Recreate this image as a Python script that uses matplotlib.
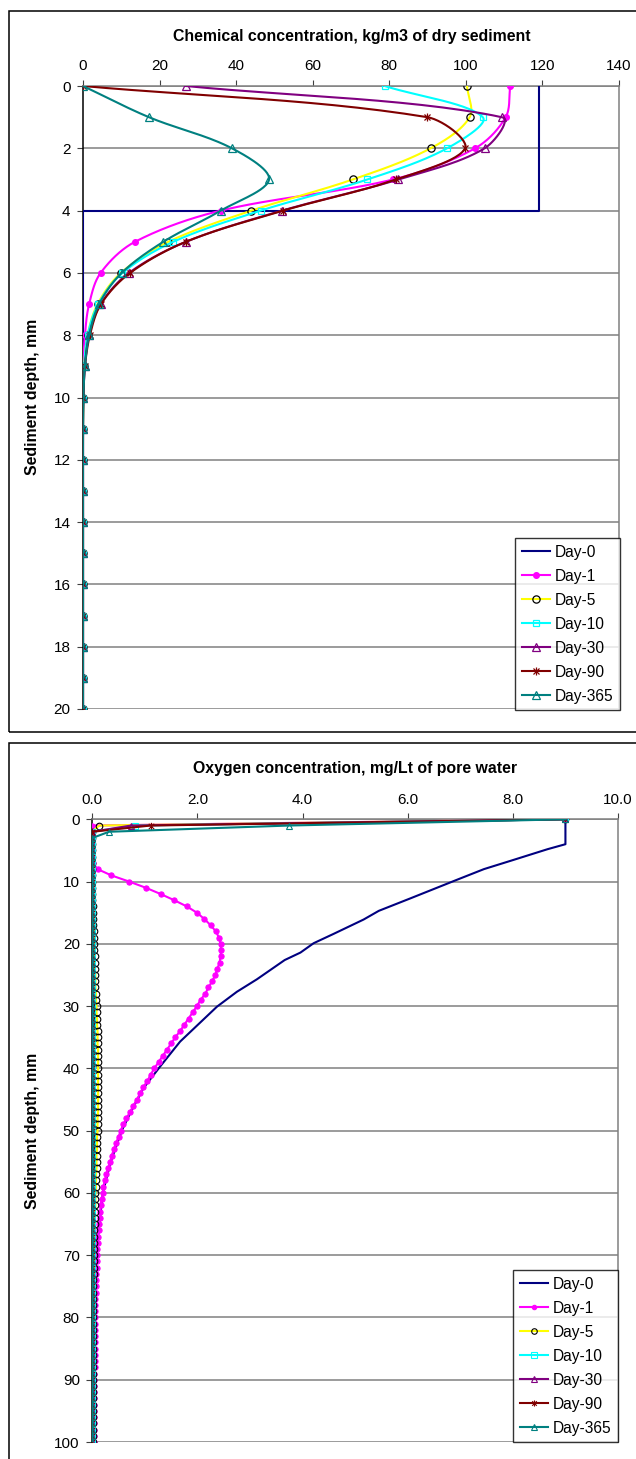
import numpy as np
import matplotlib
matplotlib.use("Agg")
import matplotlib.pyplot as plt
from matplotlib.patches import Rectangle
from matplotlib.path import Path

plt.rcParams['font.family'] = ['Liberation Sans', 'DejaVu Sans']

# ---------------- Chemical concentration, kg/m3 of dry sediment ----------------
chem_depth = [0, 1, 2, 3, 4, 5, 6, 7, 8, 9, 10, 11, 12, 13, 14, 15, 16, 17, 18, 19, 20]
chem_day0_depth = [0, 4, 4, 20]
chem_day0 = [119.0, 119.0, 0.0, 0.0]
chem_day1 = [111.6, 110.4, 102.4, 81.0, 36.0, 13.6, 4.6, 1.6, 0.5, 0.1, 0.0,
             0.0, 0.0, 0.0, 0.0, 0.0, 0.0, 0.0, 0.0, 0.0, 0.0]
chem_day5 = [100.3, 101.0, 90.8, 70.5, 44.0, 22.3, 9.9, 3.8, 1.2, 0.3, 0.1,
             0.0, 0.0, 0.0, 0.0, 0.0, 0.0, 0.0, 0.0, 0.0, 0.0]
chem_day10 = [78.8, 104.4, 95.1, 74.3, 46.4, 23.6, 10.3, 4.0, 1.2, 0.3, 0.1,
              0.0, 0.0, 0.0, 0.0, 0.0, 0.0, 0.0, 0.0, 0.0, 0.0]
chem_day30 = [26.9, 109.4, 104.9, 82.4, 52.0, 26.9, 12.0, 4.6, 1.6, 0.5, 0.1,
              0.0, 0.0, 0.0, 0.0, 0.0, 0.0, 0.0, 0.0, 0.0, 0.0]
chem_day90 = [0.0, 89.9, 99.8, 81.8, 52.3, 26.9, 12.3, 4.7, 1.8, 0.5, 0.1,
              0.0, 0.0, 0.0, 0.0, 0.0, 0.0, 0.0, 0.0, 0.0, 0.0]
chem_day365 = [0.0, 17.2, 38.9, 48.6, 36.0, 21.0, 10.1, 4.2, 1.6, 0.5, 0.1,
               0.0, 0.0, 0.0, 0.0, 0.0, 0.0, 0.0, 0.0, 0.0, 0.0]

# ---------------- Oxygen concentration, mg/Lt of pore water ----------------
oxy_depth = list(range(0, 101))
oxy_day0_depth = [0, 4, 4.8, 6.5, 8.0, 9.8, 12.7, 14.7, 16.1, 18.4, 19.9, 21.4, 22.6,
                  25.7, 27.7, 30.1, 35.7, 39.7, 43.2, 47.2, 50, 55, 60, 70, 80, 90, 100]
oxy_day0 = [9.0, 9.0, 8.66, 8.02, 7.45, 6.91, 6.05, 5.45, 5.16, 4.59, 4.21, 3.96, 3.66,
            3.13, 2.75, 2.37, 1.67, 1.29, 0.97, 0.72, 0.56, 0.35, 0.20, 0.07, 0.03, 0.01, 0.0]
oxy_day1 = [9.0, 0.0, 0.0, 0.0, 0.0, 0.0, 0.0, 0.01, 0.10, 0.36,
            0.70, 1.02, 1.30, 1.56, 1.80, 1.99, 2.13, 2.25, 2.35, 2.41,
            2.44, 2.45, 2.44, 2.42, 2.38, 2.34, 2.28, 2.21, 2.15, 2.06,
            1.99, 1.91, 1.83, 1.75, 1.67, 1.58, 1.50, 1.42, 1.34, 1.26,
            1.18, 1.11, 1.05, 0.97, 0.91, 0.85, 0.78, 0.72, 0.65, 0.59,
            0.54, 0.50, 0.45, 0.41, 0.37, 0.34, 0.30, 0.27, 0.24, 0.21,
            0.20, 0.18, 0.16, 0.15, 0.14, 0.13, 0.12, 0.11, 0.10, 0.09,
            0.08, 0.08, 0.08, 0.07, 0.07, 0.07, 0.07, 0.06, 0.06, 0.06,
            0.06, 0.06, 0.05, 0.05, 0.05, 0.05, 0.05, 0.05, 0.05, 0.04,
            0.04, 0.04, 0.04, 0.04, 0.04, 0.04, 0.04, 0.03, 0.03, 0.03,
            0.03]
oxy_day5 = [9.0, 0.13, 0.0, 0.0, 0.0, 0.0, 0.0, 0.0, 0.0, 0.0,
            0.0, 0.0, 0.0, 0.0, 0.01, 0.01, 0.02, 0.02, 0.03, 0.03,
            0.04, 0.04, 0.05, 0.05, 0.05, 0.06, 0.06, 0.06, 0.07, 0.07,
            0.08, 0.08, 0.09, 0.09, 0.10, 0.10, 0.10, 0.11, 0.11, 0.11,
            0.11, 0.11, 0.11, 0.11, 0.11, 0.11, 0.11, 0.11, 0.10, 0.10,
            0.10, 0.09, 0.09, 0.09, 0.08, 0.08, 0.08, 0.07, 0.07, 0.07,
            0.06, 0.06, 0.06, 0.05, 0.05, 0.05, 0.04, 0.04, 0.04, 0.03,
            0.03, 0.03, 0.03, 0.03, 0.02, 0.02, 0.02, 0.02, 0.02, 0.02,
            0.02, 0.02, 0.01, 0.01, 0.01, 0.01, 0.01, 0.01, 0.01, 0.01,
            0.01, 0.01, 0.01, 0.01, 0.01, 0.01, 0.01, 0.01, 0.01, 0.01,
            0.01]
oxy_day10 = [9.0, 0.81, 0.0, 0.0, 0.0, 0.0, 0.0, 0.0, 0.0, 0.0,
             0.0, 0.0, 0.0, 0.0, 0.0, 0.0, 0.0, 0.0, 0.0, 0.0,
             0.0, 0.0, 0.0, 0.0, 0.0, 0.0, 0.0, 0.0, 0.0, 0.0,
             0.0, 0.0, 0.0, 0.0, 0.0, 0.0, 0.0, 0.0, 0.0, 0.0,
             0.0, 0.0, 0.0, 0.0, 0.0, 0.0, 0.0, 0.0, 0.0, 0.0,
             0.0, 0.0, 0.0, 0.0, 0.0, 0.0, 0.0, 0.0, 0.0, 0.0,
             0.0, 0.0, 0.0, 0.0, 0.0, 0.0, 0.0, 0.0, 0.0, 0.0,
             0.0, 0.0, 0.0, 0.0, 0.0, 0.0, 0.0, 0.0, 0.0, 0.0,
             0.0, 0.0, 0.0, 0.0, 0.0, 0.0, 0.0, 0.0, 0.0, 0.0,
             0.0, 0.0, 0.0, 0.0, 0.0, 0.0, 0.0, 0.0, 0.0, 0.0,
             0.0]
oxy_day30 = [9.0, 0.74, 0.0, 0.0, 0.0, 0.0, 0.0, 0.0, 0.0, 0.0,
             0.0, 0.0, 0.0, 0.0, 0.0, 0.0, 0.0, 0.0, 0.0, 0.0,
             0.0, 0.0, 0.0, 0.0, 0.0, 0.0, 0.0, 0.0, 0.0, 0.0,
             0.0, 0.0, 0.0, 0.0, 0.0, 0.0, 0.0, 0.0, 0.0, 0.0,
             0.0, 0.0, 0.0, 0.0, 0.0, 0.0, 0.0, 0.0, 0.0, 0.0,
             0.0, 0.0, 0.0, 0.0, 0.0, 0.0, 0.0, 0.0, 0.0, 0.0,
             0.0, 0.0, 0.0, 0.0, 0.0, 0.0, 0.0, 0.0, 0.0, 0.0,
             0.0, 0.0, 0.0, 0.0, 0.0, 0.0, 0.0, 0.0, 0.0, 0.0,
             0.0, 0.0, 0.0, 0.0, 0.0, 0.0, 0.0, 0.0, 0.0, 0.0,
             0.0, 0.0, 0.0, 0.0, 0.0, 0.0, 0.0, 0.0, 0.0, 0.0,
             0.0]
oxy_day90 = [9.0, 1.11, 0.0, 0.0, 0.0, 0.0, 0.0, 0.0, 0.0, 0.0,
             0.0, 0.0, 0.0, 0.0, 0.0, 0.0, 0.0, 0.0, 0.0, 0.0,
             0.0, 0.0, 0.0, 0.0, 0.0, 0.0, 0.0, 0.0, 0.0, 0.0,
             0.0, 0.0, 0.0, 0.0, 0.0, 0.0, 0.0, 0.0, 0.0, 0.0,
             0.0, 0.0, 0.0, 0.0, 0.0, 0.0, 0.0, 0.0, 0.0, 0.0,
             0.0, 0.0, 0.0, 0.0, 0.0, 0.0, 0.0, 0.0, 0.0, 0.0,
             0.0, 0.0, 0.0, 0.0, 0.0, 0.0, 0.0, 0.0, 0.0, 0.0,
             0.0, 0.0, 0.0, 0.0, 0.0, 0.0, 0.0, 0.0, 0.0, 0.0,
             0.0, 0.0, 0.0, 0.0, 0.0, 0.0, 0.0, 0.0, 0.0, 0.0,
             0.0, 0.0, 0.0, 0.0, 0.0, 0.0, 0.0, 0.0, 0.0, 0.0,
             0.0]
oxy_day365 = [9.0, 3.75, 0.32, 0.0, 0.0, 0.0, 0.0, 0.0, 0.0, 0.0,
              0.0, 0.0, 0.0, 0.0, 0.0, 0.0, 0.0, 0.0, 0.0, 0.0,
              0.0, 0.0, 0.0, 0.0, 0.0, 0.0, 0.0, 0.0, 0.0, 0.0,
              0.0, 0.0, 0.0, 0.0, 0.0, 0.0, 0.0, 0.0, 0.0, 0.0,
              0.0, 0.0, 0.0, 0.0, 0.0, 0.0, 0.0, 0.0, 0.0, 0.0,
              0.0, 0.0, 0.0, 0.0, 0.0, 0.0, 0.0, 0.0, 0.0, 0.0,
              0.0, 0.0, 0.0, 0.0, 0.0, 0.0, 0.0, 0.0, 0.0, 0.0,
              0.0, 0.0, 0.0, 0.0, 0.0, 0.0, 0.0, 0.0, 0.0, 0.0,
              0.0, 0.0, 0.0, 0.0, 0.0, 0.0, 0.0, 0.0, 0.0, 0.0,
              0.0, 0.0, 0.0, 0.0, 0.0, 0.0, 0.0, 0.0, 0.0, 0.0,
              0.0]

series_labels = ['Day-0', 'Day-1', 'Day-5', 'Day-10', 'Day-30', 'Day-90', 'Day-365']
chem_ticks = [0, 20, 40, 60, 80, 100, 120, 140]
oxy_ticks = [0.0, 2.0, 4.0, 6.0, 8.0, 10.0]

# Excel-like colours and marker styles
NAVY, MAGENTA, YELLOW, CYAN = '#000080', '#FF00FF', '#FFFF00', '#00FFFF'
PURPLE, MAROON, TEAL = '#800080', '#800000', '#008080'

ASTERISK = Path([(0, -1), (0, 1), (-0.75, -0.75), (0.75, 0.75), (-0.75, 0.75), (0.75, -0.75)],
                [Path.MOVETO, Path.LINETO, Path.MOVETO, Path.LINETO, Path.MOVETO, Path.LINETO])

styles = [
    dict(color=NAVY, marker=None),
    dict(color=MAGENTA, marker='o', mfc=MAGENTA, mec=MAGENTA, ms_scale=0.75),
    dict(color=YELLOW, marker='o', mfc='none', mec='black', ms_scale=0.95),
    dict(color=CYAN, marker='s', mfc='none', mec=CYAN, ms_scale=0.9),
    dict(color=PURPLE, marker='^', mfc='none', mec=PURPLE, ms_scale=1.0),
    dict(color=MAROON, marker=ASTERISK, mfc='none', mec=MAROON, ms_scale=1.05),
    dict(color=TEAL, marker='^', mfc='none', mec=TEAL, ms_scale=1.0),
]


def smooth_line(ax, x, y, n=30):
    """Bezier smoothing through every point (chord-length scaled tangents, screen space)."""
    pts = ax.transData.transform(np.column_stack([x, y]).astype(float))
    m = len(pts)
    out = []
    for i in range(m - 1):
        p1, p2 = pts[i], pts[i + 1]
        p0 = pts[i - 1] if i > 0 else p1
        p3 = pts[i + 2] if i + 2 < m else p2
        d01 = np.hypot(*(p1 - p0))
        d12 = np.hypot(*(p2 - p1))
        d23 = np.hypot(*(p3 - p2))
        if d12 == 0:
            seg = np.vstack([p1, p2])
        else:
            c1 = p1 + (p2 - p0) * (d12 / (d01 + d12)) / 3.0 if d01 > 0 else p1 + (p2 - p1) / 3.0
            c2 = p2 - (p3 - p1) * (d12 / (d12 + d23)) / 3.0 if d23 > 0 else p2 - (p2 - p1) / 3.0
            t = np.linspace(0, 1, n)[:, None]
            seg = ((1 - t) ** 3) * p1 + 3 * ((1 - t) ** 2) * t * c1 + 3 * (1 - t) * t ** 2 * c2 + t ** 3 * p2
        out.append(seg if i == 0 else seg[1:])
    seg = ax.transData.inverted().transform(np.vstack(out))
    return seg[:, 0], seg[:, 1]


W, H = 636, 1459
fig = plt.figure(figsize=(W / 100, H / 100), dpi=100)


def fig_box(left, top, right, bottom):
    return [left / W, 1 - bottom / H, (right - left) / W, (bottom - top) / H]


# outer chart frames
for top, bottom in [(11, 732), (743, 1466)]:
    fig.patches.append(Rectangle((9 / W, 1 - bottom / H), (645 - 9) / W, (bottom - top) / H,
                                 transform=fig.transFigure, fill=False, edgecolor='black',
                                 linewidth=1.1, clip_on=False))

LW = 1.5
MS = 5.5
FS_TICK = 11
FS_TITLE = 11.4


def style_axes(ax, xlim, ylim, xticks, yticks, xfmt):
    ax.set_xlim(*xlim)
    ax.set_ylim(*ylim)
    ax.xaxis.tick_top()
    ax.set_xticks(xticks)
    ax.set_xticklabels([xfmt.format(v) for v in xticks])
    ax.set_yticks(yticks)
    ax.set_yticklabels([str(v) for v in yticks])
    ax.tick_params(axis='both', which='major', labelsize=FS_TICK, length=4, width=0.8,
                   color='#404040', direction='out', pad=5)
    ax.tick_params(axis='x', top=True, bottom=False, labeltop=True, labelbottom=False)
    ax.yaxis.grid(True, color='#808080', linewidth=1.1)
    ax.xaxis.grid(False)
    ax.set_axisbelow(True)
    for side in ['top', 'right', 'bottom']:
        ax.spines[side].set_color('#808080')
        ax.spines[side].set_linewidth(1.1)
    ax.spines['bottom'].set_visible(False)
    ax.spines['left'].set_color('black')
    ax.spines['left'].set_linewidth(1.1)


leg_kw = dict(loc='lower right', frameon=True, fancybox=False, edgecolor='black',
              fontsize=11.2, handlelength=1.85, handletextpad=0.3, labelspacing=0.58,
              borderpad=0.4, borderaxespad=0, numpoints=1)

# ---------------- chart 1 ----------------
ax1 = fig.add_axes(fig_box(83, 86, 619, 709))
style_axes(ax1, (0, 140), (20, 0), chem_ticks, list(range(0, 21, 2)), '{:d}')
chem_series = [chem_day1, chem_day5, chem_day10, chem_day30, chem_day90, chem_day365]
ax1.plot(chem_day0, chem_day0_depth, color=NAVY, lw=LW, label=series_labels[0], zorder=3)
for k, (vals, st) in enumerate(zip(chem_series, styles[1:])):
    sx, sy = smooth_line(ax1, vals, chem_depth)
    z = 3 + k
    ax1.plot(sx, sy, color=st['color'], lw=LW, zorder=z)
    ax1.plot(vals, chem_depth, linestyle='none', marker=st['marker'], mfc=st['mfc'],
             mec=st['mec'], mew=0.9, ms=MS * st['ms_scale'], zorder=z + 0.5)
    # legend proxy
    ax1.plot([], [], color=st['color'], lw=LW, marker=st['marker'], mfc=st['mfc'],
             mec=st['mec'], mew=0.9, ms=MS * st['ms_scale'], label=series_labels[k + 1])

fig.text(352 / W, 1 - 37 / H, 'Chemical concentration, kg/m3 of dry sediment',
         ha='center', va='center', fontsize=FS_TITLE, fontweight='bold')
fig.text(33 / W, 1 - 397 / H, 'Sediment depth, mm', ha='center', va='center',
         rotation=90, fontsize=FS_TITLE, fontweight='bold')

leg1 = ax1.legend(bbox_to_anchor=(620 / W, 1 - 710 / H), bbox_transform=fig.transFigure, **leg_kw)
leg1.get_frame().set_linewidth(1.0)

# ---------------- chart 2 ----------------
ax2 = fig.add_axes(fig_box(92.3, 819.3, 618, 1442))
style_axes(ax2, (0, 10), (100, 0), oxy_ticks, list(range(0, 101, 10)), '{:.1f}')
oxy_series = [oxy_day1, oxy_day5, oxy_day10, oxy_day30, oxy_day90, oxy_day365]
ax2.plot(oxy_day0, oxy_day0_depth, color=NAVY, lw=LW, label=series_labels[0], zorder=3)
MS2 = 5.0
for k, (vals, st) in enumerate(zip(oxy_series, styles[1:])):
    z = 3 + k
    ax2.plot(vals, oxy_depth, color=st['color'], lw=LW, marker=st['marker'], mfc=st['mfc'],
             mec=st['mec'], mew=0.8, ms=MS2 * st['ms_scale'], zorder=z)
    ax2.plot([], [], color=st['color'], lw=LW, marker=st['marker'], mfc=st['mfc'],
             mec=st['mec'], mew=0.8, ms=4.2 * st['ms_scale'], label=series_labels[k + 1])

fig.text(355 / W, 1 - 769 / H, 'Oxygen concentration, mg/Lt of pore water',
         ha='center', va='center', fontsize=FS_TITLE, fontweight='bold')
fig.text(33 / W, 1 - 1131 / H, 'Sediment depth, mm', ha='center', va='center',
         rotation=90, fontsize=FS_TITLE, fontweight='bold')

leg2 = ax2.legend(bbox_to_anchor=(618 / W, 1 - 1442 / H), bbox_transform=fig.transFigure, **leg_kw)
leg2.get_frame().set_linewidth(1.0)

fig.savefig('out.png', dpi=100, facecolor='white')
